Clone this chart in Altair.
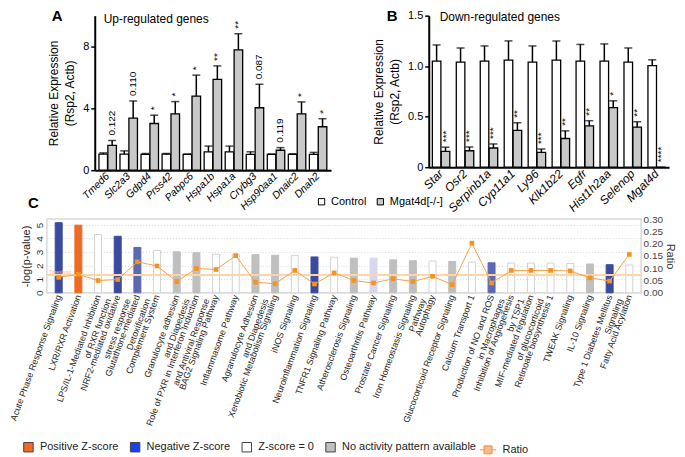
import altair as alt
import pandas as pd

FONT = "Liberation Sans"

# ---------------- Panel A data ----------------
up_genes = ["Tmed6", "Slc2a3", "Gdpd4", "Prss42", "Pabpc6", "Hspa1b", "Hspa1a",
            "Crybg3", "Hsp90aa1", "Dnaic2", "Dnah2"]
up_ctrl = [1.04, 1.04, 1.02, 1.04, 1.02, 1.19, 1.19, 1.02, 1.02, 1.02, 1.02]
up_ctrl_err = [0.08, 0.21, 0.06, 0.04, 0.03, 0.37, 0.37, 0.17, 0.03, 0.04, 0.13]
up_ko = [1.60, 3.37, 3.02, 3.65, 4.79, 5.87, 7.79, 4.04, 1.29, 3.65, 2.81]
up_ko_err = [0.32, 1.11, 0.54, 0.79, 1.36, 0.88, 1.04, 1.52, 0.17, 0.77, 0.52]
up_sig = ["0.122", "0.110", "*", "*", "*", "**", "**", "0.087", "0.119", "*", "*"]

# ---------------- Panel B data ----------------
down_genes = ["Star", "Osr2", "Serpinb1a", "Cyp11a1", "Ly96", "Klk1b22", "Egfr",
              "Hist1h2aa", "Selenop", "Mgat4d"]
down_ctrl = [1.05, 1.04, 1.05, 1.06, 1.04, 1.06, 1.05, 1.05, 1.04, 1.005]
down_ctrl_err = [0.16, 0.14, 0.15, 0.19, 0.16, 0.19, 0.165, 0.17, 0.14, 0.058]
down_ko = [0.157, 0.163, 0.19, 0.364, 0.147, 0.284, 0.408, 0.59, 0.396, 0.0]
down_ko_err = [0.041, 0.037, 0.04, 0.076, 0.033, 0.076, 0.052, 0.067, 0.054, 0.0]
down_sig = ["***", "***", "***", "**", "***", "**", "**", "*", "**", "****"]

groups = ["Control", "Mgat4d[-/-]"]
up_heading = ["Up-regulated  genes"]
down_heading = ["Down-regulated  genes"]

# ---------------- Panel C data ----------------
pathways = [
    "Acute Phase Response Signaling",
    "LXR/RXR Activation",
    "LPS/IL-1-Mediated Inhibition|of RXR function",
    "NRF2-mediated oxidative|stress response",
    "Glutathione-mediated|Detoxification",
    "Complement System",
    "Granulocyte adhesion|and Diapedesis",
    "Role of PXR in Interferon Induction|and Antiviral Response",
    "BAG2 Signaling Pathway",
    "Inflammasome Pathway",
    "Agranulocyte Adhesion|and Diapedesis",
    "Xenobiotic Metabolism Signaling",
    "iNOS Signaling",
    "Neuroinflammation Signaling",
    "TNFR1 Signaling Pathway",
    "Atherosclerosis Signaling",
    "Osteoarthritis Pathway",
    "Prostate Cancer Signaling",
    "Iron Homeostasis Signaling|Pathway",
    "Autophagy",
    "Glucocorticoid Receptor Signaling",
    "Calcium Transport 1",
    "Production of NO and ROS|in Macrophages",
    "Inhibition of Angiogenesis|by TSP1",
    "MIF-mediated regulation|of glucocorticoid",
    "Retinoate biosynthesis 1",
    "TWEAK Signaling",
    "IL-10 Signaling",
    "Type 1 Diabetes Mellitus|Signaling",
    "Fatty Acid Acylation",
]
neglogp = [5.16, 4.98, 4.29, 4.16, 3.34, 3.12, 3.02, 2.95, 2.84, 2.84, 2.81, 2.76,
           2.76, 2.64, 2.62, 2.55, 2.55, 2.43, 2.36, 2.34, 2.31, 2.26, 2.21, 2.19,
           2.19, 2.19, 2.16, 2.12, 2.07, 2.05]
ratio = [0.063, 0.075, 0.050, 0.054, 0.126, 0.109, 0.046, 0.099, 0.095, 0.151,
         0.043, 0.037, 0.091, 0.036, 0.081, 0.050, 0.040, 0.057, 0.046, 0.067,
         0.033, 0.202, 0.040, 0.091, 0.091, 0.091, 0.089, 0.061, 0.048, 0.156]
zscore_cat = ["neg_dark", "Positive Z-score", "Z-score = 0", "neg_dark", "neg_mid",
              "Z-score = 0", "No activity pattern available", "No activity pattern available",
              "Z-score = 0", "Z-score = 0", "No activity pattern available",
              "No activity pattern available", "Z-score = 0", "neg_dark", "Z-score = 0",
              "No activity pattern available", "neg_light", "No activity pattern available",
              "No activity pattern available", "Z-score = 0", "No activity pattern available",
              "Z-score = 0", "neg_mid", "Z-score = 0", "Z-score = 0", "Z-score = 0",
              "Z-score = 0", "No activity pattern available", "neg_dark", "Z-score = 0"]
threshold = 1.3
ratio_series = "Ratio"

zdom = ["Positive Z-score", "Negative Z-score", "Z-score = 0",
        "No activity pattern available", "neg_dark", "neg_mid", "neg_light"]
zfill = ["#ee6b23", "#1c3df5", "#ffffff", "#bfbfbf", "#3a4a9e", "#5b69b3", "#d6d6ee"]
zstroke = ["#ee6b23", "#1c3df5", "#d2d2d2", "#bfbfbf", "#3a4a9e", "#5b69b3", "#d6d6ee"]

LEFT_MAX = 5.43
RATIO_MAX = 0.3


def long_df(genes, ctrl, ctrl_err, ko, ko_err, sig):
    rows = []
    for i, g in enumerate(genes):
        rows.append(dict(gene=g, group=groups[0], value=ctrl[i], err=ctrl_err[i], sig=""))
        rows.append(dict(gene=g, group=groups[1], value=ko[i], err=ko_err[i], sig=sig[i]))
    df = pd.DataFrame(rows)
    df["top"] = df["value"] + df["err"]
    return df


def letter_mark(letter, x, y):
    return alt.Chart(pd.DataFrame({"t": [letter]})).mark_text(
        align="left", baseline="alphabetic", fontSize=15, fontWeight="bold",
        color="black").encode(x=alt.value(x), y=alt.value(y), text="t:N")


def expr_panel(df, genes, ymax, ticks, label_expr, w, h, pi, po, xlab_size,
               letter, letter_dx, heading, head_x, head_y, legend):
    base = alt.Chart(df)
    x = alt.X("gene:N", sort=genes, title=None,
              scale=alt.Scale(paddingInner=pi, paddingOuter=po),
              axis=alt.Axis(labelAngle=-45, labelAlign="right", labelBaseline="middle",
                            labelFontStyle="italic", labelFontSize=xlab_size,
                            labelColor="black", ticks=False, domainWidth=2,
                            domainColor="black", labelPadding=4))
    xo = alt.XOffset("group:N", sort=groups, scale=alt.Scale(paddingInner=0.04))
    y = alt.Y("value:Q", title=["Relative Expression", "(Rsp2, Actb)"],
              scale=alt.Scale(domain=[0, ymax], nice=False),
              axis=alt.Axis(values=ticks, labelExpr=label_expr, grid=False,
                            domainWidth=2, domainColor="black", tickColor="black",
                            tickWidth=1.5, tickSize=4, labelFontSize=11,
                            labelColor="black", titleFontSize=12,
                            titleFontWeight="normal", titleColor="black",
                            titleLineHeight=16, titlePadding=6, labelPadding=2))
    color = alt.Color("group:N", sort=groups,
                      scale=alt.Scale(domain=groups, range=["#ffffff", "#c9c9c9"]),
                      legend=legend)
    bars = base.mark_bar(stroke="black", strokeWidth=1.3).encode(
        x=x, xOffset=xo, y=y, color=color)
    err = base.mark_rule(color="black", strokeWidth=1.5).encode(
        x=x, xOffset=xo, y="value:Q", y2="top:Q")
    cap = base.transform_filter(alt.datum.err > 0).mark_tick(
        color="black", thickness=1.5, size=8).encode(x=x, xOffset=xo, y="top:Q")
    sig = base.transform_filter(alt.datum.sig != "").mark_text(
        angle=270, align="left", baseline="middle", dx=5, fontSize=10,
        color="black").encode(x=x, xOffset=xo, y="top:Q", text="sig:N")
    head = alt.Chart(pd.DataFrame({"t": heading})).mark_text(
        align="left", baseline="alphabetic", fontSize=12, color="black").encode(
        x=alt.value(head_x), y=alt.value(head_y), text="t:N")
    return alt.layer(bars, err, cap, sig, head,
                     letter_mark(letter, letter_dx, 5)).properties(width=w, height=h)


dfA = long_df(up_genes, up_ctrl, up_ctrl_err, up_ko, up_ko_err, up_sig)
dfB = long_df(down_genes, down_ctrl, down_ctrl_err, down_ko, down_ko_err, down_sig)

legendB = alt.Legend(title=None, orient="none", legendX=-113, legendY=181,
                     direction="horizontal", symbolType="square", symbolSize=40,
                     symbolStrokeColor="black", symbolStrokeWidth=1, labelFontSize=11,
                     labelColor="black", columnPadding=8, labelOffset=4, padding=0)

panelA = expr_panel(dfA, up_genes, 10, [0, 2, 4, 6, 8, 10], "datum.label", 237, 155,
                    0.17, 0.2, 10.5, "A", -43, up_heading, 9, 7, None)
panelB = expr_panel(dfB, down_genes, 1.5, [0, 0.5, 1.0, 1.5],
                    "datum.value == 0 ? '0' : format(datum.value, '.1f')", 241, 152,
                    0.27, 0.15, 12, "B", -42, down_heading, 11, 5, legendB)

# ---------------- Panel C ----------------
dfC = pd.DataFrame({"pathway": pathways, "logp": neglogp, "ratio": ratio,
                    "z": zscore_cat, "series": ratio_series,
                    "thr": [threshold] * len(pathways)})
cbase = alt.Chart(dfC)
xC = alt.X("pathway:N", sort=pathways, title=None,
           scale=alt.Scale(paddingInner=0, paddingOuter=0.1),
           axis=alt.Axis(labelAngle=-70, labelAlign="right", labelBaseline="middle",
                         labelExpr="split(datum.label, '|')", labelFontSize=9,
                         labelLineHeight=11, ticks=False, domain=False,
                         labelPadding=2, labelColor="#222", labelLimit=400,
                         labelOverlap=False))
yL = alt.Y("logp:Q", title="-log(p-value)",
           scale=alt.Scale(domain=[0, LEFT_MAX], nice=False),
           axis=alt.Axis(values=[0, 1, 2, 3, 4, 5], labelAngle=-90, labelAlign="center",
                         labelBaseline="bottom", labelFontSize=10, labelColor="#333",
                         labelPadding=2, ticks=False, domain=False, grid=True,
                         gridDash=[1, 2], gridColor="#d8d8d8", titleFontSize=11,
                         titleFontWeight="normal", titleColor="#222", titlePadding=3))
fill_scale = alt.Scale(domain=zdom, range=zfill)
barsC = cbase.mark_bar(size=7).encode(
    x=xC, y=yL,
    fill=alt.Fill("z:N", scale=fill_scale, legend=None),
    stroke=alt.Stroke("z:N", scale=alt.Scale(domain=zdom, range=zstroke), legend=None))
yThr = alt.Y("thr:Q", scale=alt.Scale(domain=[0, LEFT_MAX], nice=False), axis=None)
thr = cbase.mark_rule(color="#fcd5a8", strokeWidth=1).encode(y=yThr)
thr_txt = cbase.transform_filter(alt.datum.pathway == pathways[0]).mark_text(
    text="Threshold", fontSize=5, color="#f3bf8a", align="left",
    baseline="bottom").encode(x=alt.value(2), y=yThr)

yR = alt.Y("ratio:Q", title="Ratio", scale=alt.Scale(domain=[0, RATIO_MAX], nice=False),
           axis=alt.Axis(orient="right", values=[0, 0.05, 0.1, 0.15, 0.2, 0.25, 0.3],
                         format=".2f", grid=False, domain=False, ticks=False,
                         labelFontSize=10, labelColor="#444", labelPadding=2,
                         titleFontSize=11, titleFontWeight="normal", titleColor="#333",
                         titlePadding=2))
lineC = cbase.mark_line(color="#f5a445", strokeWidth=1).encode(x=xC, y=yR)
ptsC = cbase.mark_square(size=22, color="#f7921e", opacity=1).encode(
    x=xC, y=alt.Y("ratio:Q", scale=alt.Scale(domain=[0, RATIO_MAX], nice=False),
                  axis=None))

panelC = alt.layer(barsC, thr, thr_txt, lineC, ptsC,
                   letter_mark("C", -19, -11)).resolve_scale(
    y="independent").properties(
    width=596, height=74,
    view=alt.ViewBackground(stroke="#d9d9d9", strokeWidth=1.5))

# ---------------- Legend row for panel C ----------------
legendC = alt.Legend(title=None, values=zdom[:4], orient="none", legendX=-24,
                     legendY=10, direction="horizontal", symbolType="square",
                     symbolSize=90, symbolStrokeColor="#444", symbolStrokeWidth=1,
                     symbolOpacity=1, labelFontSize=11, labelColor="#222",
                     columnPadding=9, labelOffset=6, padding=0)
legendR = alt.Legend(title=None, orient="none", legendX=434, legendY=10,
                     symbolType="M-1,0H-0.5M0.5,0H1M-0.5,-0.5H0.5V0.5H-0.5Z",
                     symbolSize=256, symbolStrokeColor="#e98f3e",
                     symbolFillColor="#fbb98a", symbolStrokeWidth=1, symbolOpacity=1,
                     labelFontSize=11, labelColor="#222", labelOffset=6, padding=0)
leg_fill = cbase.mark_square(opacity=0).encode(
    fill=alt.Fill("z:N", scale=fill_scale, legend=legendC))
leg_line = cbase.mark_line(opacity=0).encode(
    strokeDash=alt.StrokeDash("series:N", scale=alt.Scale(range=[[1, 0]]),
                              legend=legendR))
legend_row = alt.layer(leg_fill, leg_line).properties(width=1, height=1)

spacer1 = alt.Chart(pd.DataFrame({"s": [0]})).mark_point(opacity=0).encode(
    x=alt.X("s:Q", axis=None), y=alt.Y("s:Q", axis=None)).properties(width=48, height=5)
spacer2 = alt.Chart(pd.DataFrame({"s": [0]})).mark_point(opacity=0).encode(
    x=alt.X("s:Q", axis=None), y=alt.Y("s:Q", axis=None)).properties(width=98, height=5)

top = alt.hconcat(spacer1, panelA, spacer2, panelB, spacing=0,
                  bounds="flush").resolve_scale(color="independent")
chart = alt.vconcat(top, panelC, legend_row, spacing=-19).resolve_scale(
    fill="independent", strokeDash="independent", color="independent").resolve_legend(
    fill="independent", strokeDash="independent", color="independent").properties(
    padding=0).configure(font=FONT).configure_view(stroke=None)

chart.save("out.html", embed_options={"renderer": "svg", "actions": False})
